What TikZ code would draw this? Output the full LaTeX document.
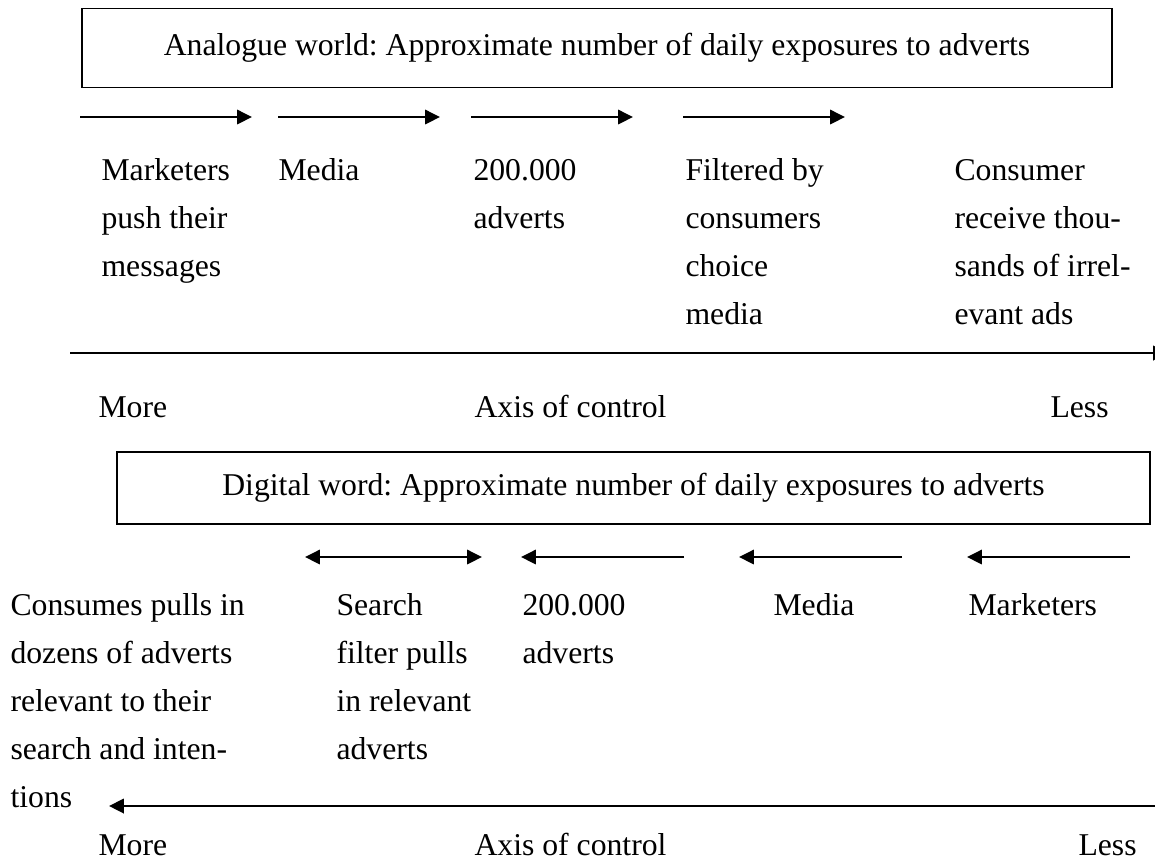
\documentclass[tikz,border=0pt]{standalone}
\usepackage{fontspec}
\setmainfont{Liberation Serif}
\usetikzlibrary{arrows.meta}
\frenchspacing

\begin{document}
\begin{tikzpicture}[
  x=0.3785pt, y=-0.3785pt,
  every node/.style={font=\fontsize{12pt}{18.2pt}\selectfont, inner sep=0pt},
  titlebox/.style={draw, line width=0.6pt, minimum width=#1, inner sep=0pt},
  colx/.style={anchor=base west},
  flow/.style={line width=0.8pt, -{Triangle[length=5.6pt,width=5.4pt]}},
  flowboth/.style={line width=0.8pt, {Triangle[length=5.6pt,width=5.4pt]}-{Triangle[length=5.6pt,width=5.4pt]}},
  axis/.style={line width=1pt, -{Triangle[length=5.6pt,width=5.4pt]}}
]
\useasboundingbox (0,0) rectangle (1155,861);

\newcommand{\col}[2]{\parbox[t]{#1}{\raggedright #2}}

% ---------- analogue world ----------
\node[titlebox=389.9pt, minimum height=29.9pt] (topbox) at (597,48)
  {Analogue world: Approximate number of daily exposures to adverts};

\coordinate (a1s) at (80,117);  \coordinate (a1e) at (252,117);
\coordinate (a2s) at (278,117); \coordinate (a2e) at (440,117);
\coordinate (a3s) at (471,117); \coordinate (a3e) at (633,117);
\coordinate (a4s) at (683,117); \coordinate (a4e) at (845,117);
\draw[flow] (a1s) -- (a1e);
\draw[flow] (a2s) -- (a2e);
\draw[flow] (a3s) -- (a3e);
\draw[flow] (a4s) -- (a4e);

\node[colx] (mk) at (101,180) {\col{4cm}{Marketers\\push their\\messages}};
\node[colx] (md) at (278,180) {Media};
\node[colx] (ad) at (473,180) {\col{4cm}{200.000\\adverts}};
\node[colx] (fb) at (685,180) {\col{4cm}{Filtered by\\consumers\\choice\\media}};
\node[colx] (cr) at (954,180) {\col{4cm}{Consumer\\receive thou-\\sands of irrel-\\evant ads}};

\coordinate (ax1s) at (70,353); \coordinate (ax1e) at (1168,353);
\draw[axis] (ax1s) -- (ax1e);

\node[colx] (more1) at (98,417) {More};
\node[colx] (axis1) at (474,417) {Axis of control};
\node[colx] (less1) at (1050,417) {Less};

% ---------- digital world ----------
\node[titlebox=391pt, minimum height=27.3pt] (botbox) at (633.5,488)
  {Digital word: Approximate number of daily exposures to adverts};

\coordinate (b1s) at (305,557); \coordinate (b1e) at (482,557);
\coordinate (b2s) at (684,557); \coordinate (b2e) at (521,557);
\coordinate (b3s) at (902,557); \coordinate (b3e) at (739,557);
\coordinate (b4s) at (1130,557); \coordinate (b4e) at (967,557);
\draw[flowboth] (b1s) -- (b1e);
\draw[flow] (b2s) -- (b2e);
\draw[flow] (b3s) -- (b3e);
\draw[flow] (b4s) -- (b4e);

\node[colx] (cp) at (10,615) {\col{6cm}{Consumes pulls in\\dozens of adverts\\relevant to their\\search and inten-\\tions}};
\node[colx] (sf) at (336,615) {\col{4cm}{Search\\filter pulls\\in relevant\\adverts}};
\node[colx] (ad2) at (522,615) {\col{4cm}{200.000\\adverts}};
\node[colx] (md2) at (773,615) {Media};
\node[colx] (mk2) at (968,615) {Marketers};

\coordinate (ax2s) at (1160,806); \coordinate (ax2e) at (109,806);
\draw[axis] (ax2s) -- (ax2e);

\node[colx] (more2) at (98,855) {More};
\node[colx] (axis2) at (474,855) {Axis of control};
\node[colx] (less2) at (1078,855) {Less};
\end{tikzpicture}
\end{document}
